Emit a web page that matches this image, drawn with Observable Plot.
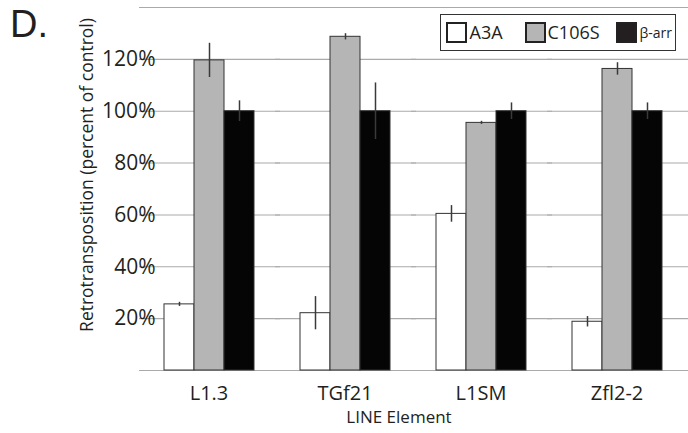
<!DOCTYPE html>
<html><head><meta charset="utf-8">
<script src="https://cdn.jsdelivr.net/npm/d3@7"></script>
<script src="https://cdn.jsdelivr.net/npm/@observablehq/plot@0.6"></script>
<style>
body{margin:0;background:#fff;font-family:"Open Sans",sans-serif;color:#231f20;}
#wrap{position:relative;width:688px;height:433px;overflow:hidden;}
#wrap svg{display:block;}
.abs{position:absolute;line-height:1;white-space:nowrap;}
#panel{left:10px;top:5px;font-size:38px;font-family:"Liberation Sans",sans-serif;}
#legend{position:absolute;left:440px;top:14px;width:234px;height:35px;border:1.5px solid #333;background:#fff;}
.sw{position:absolute;box-sizing:border-box;border:2px solid #222;}
.lt{position:absolute;line-height:1;white-space:nowrap;}
</style></head><body><div id="wrap"></div>
<script>
const elements = ["L1.3", "TGf21", "L1SM", "Zfl2-2"];
const series = ["A3A", "C106S", "β-arr"];
const seriesColors = ["#ffffff", "#b4b5b4", "#050505"];
const a3aValues = [25.5, 22.1, 60.4, 18.8];
const a3aErrors = [0.8, 6.4, 3.2, 2.0];
const c106sValues = [119.6, 128.7, 95.5, 116.3];
const c106sErrors = [6.6, 1.2, 0.6, 2.4];
const barrValues = [100, 100, 100, 100];
const barrErrors = [4.0, 10.9, 3.2, 3.2];
const yTicks = [20, 40, 60, 80, 100, 120];
const gridTicks = [0, 20, 40, 60, 80, 100, 120, 140];
const yLabel = "Retrotransposition (percent of control)";
const xLabel = "LINE Element";
const panelLabel = "D.";

const valueSets = [[a3aValues, a3aErrors], [c106sValues, c106sErrors], [barrValues, barrErrors]];
const data = [];
elements.forEach((el, i) => {
  series.forEach((s, j) => {
    data.push({element: el, series: s, value: valueSets[j][0][i], err: valueSets[j][1][i]});
  });
});

const chart = Plot.plot({
  width: 688, height: 433,
  marginTop: 7, marginBottom: 63, marginLeft: 140, marginRight: 3,
  style: {fontFamily: "'Open Sans', sans-serif", background: "white", color: "#231f20"},
  fx: {domain: elements, paddingInner: 0.33, paddingOuter: 0.167, label: null},
  x: {domain: series, padding: 0, axis: null},
  y: {domain: [0, 140], axis: null},
  color: {domain: series, range: seriesColors},
  marks: [
    Plot.ruleY(gridTicks, {stroke: "#aaaaaa", strokeWidth: 1.1, insetLeft: -24, insetRight: -26}),
    Plot.axisY(yTicks, {tickSize: 0, tickPadding: 8, tickFormat: d => d + "%", fontSize: 21, label: null}),
    Plot.axisFx({anchor: "bottom", tickSize: 0, tickPadding: 15, fontSize: 20, label: null}),
    Plot.barY(data, {fx: "element", x: "series", y: "value", fill: "series", stroke: "#333", strokeWidth: 1}),
    Plot.ruleX(data, {fx: "element", x: "series", y1: d => d.value - d.err, y2: d => d.value + d.err, stroke: "#3a3a3a", strokeWidth: 1.5}),
    Plot.text([yLabel], {facet: "super", frameAnchor: "left", rotate: -90, dx: -76, dy: -14, fontSize: 17.5, textAnchor: "middle", fill: "#231f20"}),
    Plot.text([xLabel], {facet: "super", frameAnchor: "bottom", lineAnchor: "top", dx: -14, dy: 40, fontSize: 17, fill: "#231f20"})
  ]
});

const wrap = document.getElementById("wrap");
wrap.appendChild(chart);

const panel = document.createElement("div");
panel.className = "abs"; panel.id = "panel"; panel.textContent = panelLabel;
wrap.appendChild(panel);

const legend = document.createElement("div");
legend.id = "legend";
wrap.appendChild(legend);
const swLeft = [446.7, 525, 616];
const txLeft = [470, 548, 640];
const txSize = [18, 18, 14];
series.forEach((s, j) => {
  const sw = document.createElement("div");
  sw.className = "sw";
  sw.style.left = (swLeft[j] - 441.5) + "px";
  sw.style.top = (22 - 15.5) + "px";
  sw.style.width = "21px"; sw.style.height = "21px";
  sw.style.background = j === 2 ? "#231f20" : seriesColors[j];
  legend.appendChild(sw);
  const t = document.createElement("div");
  t.className = "lt";
  t.textContent = s;
  t.style.left = (txLeft[j] - 441.5) + "px";
  t.style.fontSize = txSize[j] + "px";
  t.style.top = (j === 2 ? 39 - 0.888 * 14 : 39 - 0.888 * 18) - 15.5 + "px";
  legend.appendChild(t);
});
</script></body></html>
